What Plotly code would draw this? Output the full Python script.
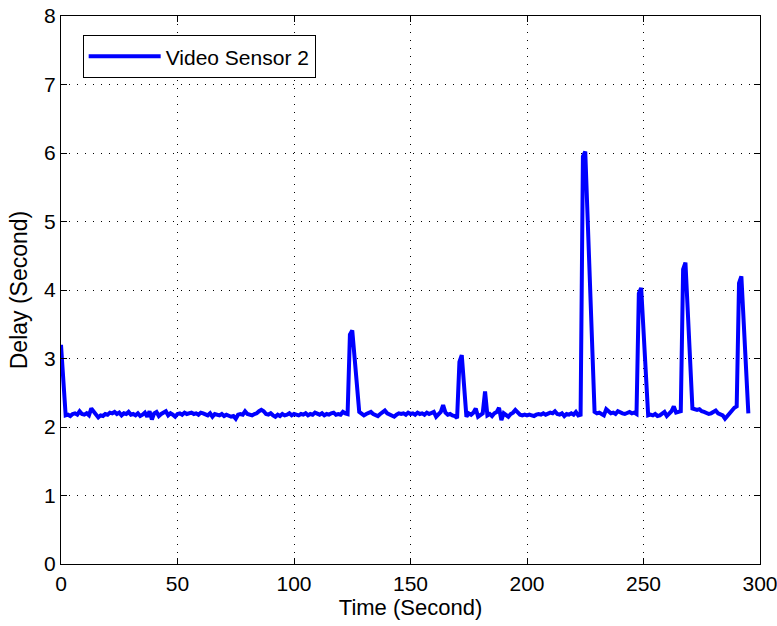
import plotly.graph_objects as go

time_s = [0, 2, 3, 4, 5, 6, 7, 8, 9, 10, 11, 12, 13, 14, 15, 16, 17, 18, 19, 20,
          21, 22, 23, 24, 25, 26, 27, 28, 29, 30, 31, 32, 33, 34, 35, 36, 37, 38, 39, 40,
          41, 42, 43, 44, 45, 46, 47, 48, 49, 50, 51, 52, 53, 54, 55, 56, 57, 58, 59, 60,
          61, 62, 63, 64, 65, 66, 67, 68, 69, 70, 71, 72, 73, 74, 75, 76, 77, 78, 79, 80,
          81, 82, 83, 84, 85, 86, 87, 88, 89, 90, 91, 92, 93, 94, 95, 96, 97, 98, 99, 100,
          101, 102, 103, 104, 105, 106, 107, 108, 109, 110, 111, 112, 113, 114, 115, 116, 117, 118, 119, 120,
          121, 122, 123, 124, 125, 128, 129, 130, 131, 132, 133, 134, 135, 136, 137, 138, 139, 140,
          141, 142, 143, 144, 145, 146, 147, 148, 149, 150, 151, 152, 153, 154, 155, 156, 157, 158, 159, 160,
          161, 162, 163, 164, 165, 166, 167, 168, 169, 170, 171, 172, 174, 175, 176, 177, 178, 179, 180,
          181, 182, 183, 184, 185, 186, 187, 188, 189, 190, 191, 192, 193, 194, 195, 196, 197, 198, 199, 200,
          201, 202, 203, 204, 205, 206, 207, 208, 209, 210, 211, 212, 213, 214, 215, 216, 217, 218, 219, 220,
          221, 222, 223, 224, 225, 229, 230, 231, 232, 233, 234, 235, 236, 237, 238, 239, 240,
          241, 242, 243, 244, 245, 246, 247, 248, 249, 252, 253, 254, 255, 256, 257, 258, 259, 260,
          261, 262, 263, 264, 265, 266, 267, 268, 271, 272, 273, 274, 275, 276, 277, 278, 279, 280,
          281, 282, 283, 284, 285, 286, 287, 288, 289, 290, 291, 292, 295]

delay_s = [3.20, 2.17, 2.18, 2.16, 2.19, 2.20, 2.18, 2.23, 2.19, 2.18, 2.20, 2.17, 2.27, 2.22, 2.18, 2.14, 2.17, 2.16, 2.19, 2.18,
           2.21, 2.20, 2.22, 2.19, 2.21, 2.17, 2.20, 2.19, 2.22, 2.18, 2.19, 2.17, 2.20, 2.16, 2.18, 2.21, 2.15, 2.23, 2.11, 2.20,
           2.22, 2.16, 2.19, 2.21, 2.23, 2.17, 2.20, 2.18, 2.15, 2.19, 2.20, 2.18, 2.21, 2.19, 2.20, 2.21, 2.19, 2.20, 2.18, 2.21,
           2.20, 2.19, 2.17, 2.20, 2.15, 2.19, 2.18, 2.17, 2.19, 2.16, 2.18, 2.17, 2.15, 2.16, 2.12, 2.18, 2.19, 2.18, 2.23, 2.19,
           2.18, 2.17, 2.19, 2.20, 2.23, 2.25, 2.23, 2.19, 2.18, 2.20, 2.17, 2.15, 2.18, 2.16, 2.19, 2.17, 2.18, 2.20, 2.17, 2.19,
           2.18, 2.17, 2.19, 2.18, 2.20, 2.17, 2.19, 2.18, 2.21, 2.19, 2.18, 2.20, 2.17, 2.19, 2.18, 2.20, 2.21, 2.18, 2.19, 2.18,
           2.22, 2.20, 2.19, 3.35, 3.41, 2.22, 2.20, 2.17, 2.19, 2.20, 2.22, 2.19, 2.18, 2.16, 2.19, 2.21, 2.24, 2.20,
           2.18, 2.17, 2.15, 2.18, 2.20, 2.19, 2.20, 2.18, 2.21, 2.19, 2.20, 2.18, 2.21, 2.19, 2.20, 2.18, 2.21, 2.19, 2.20, 2.22,
           2.15, 2.19, 2.22, 2.32, 2.21, 2.18, 2.19, 2.17, 2.16, 2.13, 2.95, 3.05, 2.15, 2.20, 2.18, 2.21, 2.27, 2.15, 2.18,
           2.20, 2.52, 2.17, 2.19, 2.16, 2.20, 2.22, 2.28, 2.10, 2.20, 2.18, 2.15, 2.19, 2.21, 2.25, 2.21, 2.18, 2.17, 2.18, 2.17,
           2.18, 2.17, 2.16, 2.18, 2.19, 2.18, 2.20, 2.18, 2.19, 2.21, 2.20, 2.23, 2.19, 2.18, 2.20, 2.16, 2.19, 2.18, 2.20, 2.18,
           2.22, 2.17, 2.18, 5.95, 6.02, 2.22, 2.20, 2.21, 2.19, 2.17, 2.26, 2.22, 2.20, 2.21, 2.19, 2.23, 2.21,
           2.20, 2.19, 2.21, 2.22, 2.20, 2.21, 2.19, 3.95, 4.03, 2.17, 2.18, 2.17, 2.19, 2.16, 2.17, 2.20, 2.22, 2.16,
           2.19, 2.23, 2.30, 2.21, 2.22, 2.23, 4.30, 4.40, 2.27, 2.26, 2.25, 2.26, 2.23, 2.22, 2.21, 2.19, 2.20, 2.22,
           2.24, 2.20, 2.18, 2.17, 2.12, 2.16, 2.20, 2.25, 2.28, 2.30, 4.10, 4.20, 2.20]

x_ticks = [0, 50, 100, 150, 200, 250, 300]
y_ticks = [0, 1, 2, 3, 4, 5, 6, 7, 8]

FONT = "Liberation Sans, Arial"

fig = go.Figure()
fig.add_trace(go.Scatter(
    x=time_s, y=delay_s, mode="lines", name="Video Sensor 2",
    line=dict(color="#0000ff", width=4),
))

axis_common = dict(
    showline=True, linecolor="black", linewidth=1, mirror="ticks",
    ticks="inside", ticklen=6, tickcolor="black",
    showgrid=True, gridcolor="black", gridwidth=1, griddash="1px,7px",
    zeroline=False, automargin=False, ticklabeloverflow="allow",
    tickfont=dict(family=FONT, size=21, color="black"),
)

fig.update_xaxes(range=[0, 300], tickvals=x_ticks, ticklabelstandoff=1,
                 title=dict(text="Time (Second)", font=dict(family=FONT, size=22, color="black"), standoff=0),
                 **axis_common)
fig.update_yaxes(range=[0, 8], tickvals=y_ticks, ticklabelstandoff=0,
                 title=dict(text="Delay (Second)", font=dict(family=FONT, size=23, color="black"), standoff=10),
                 **axis_common)

fig.update_layout(
    width=777, height=626,
    margin=dict(l=61, r=17, t=16, b=62),
    paper_bgcolor="white", plot_bgcolor="white",
    showlegend=True,
    legend=dict(x=0.031, y=0.965, xanchor="left", yanchor="top",
                bgcolor="white", bordercolor="black", borderwidth=1,
                font=dict(family=FONT, size=21, color="black"),
                itemwidth=72),
)

# remove the browser's default 8px body margin so the figure fills the window exactly
fig.write_html("out.html", config={"displayModeBar": False},
               post_script="document.body.style.margin='0';")
